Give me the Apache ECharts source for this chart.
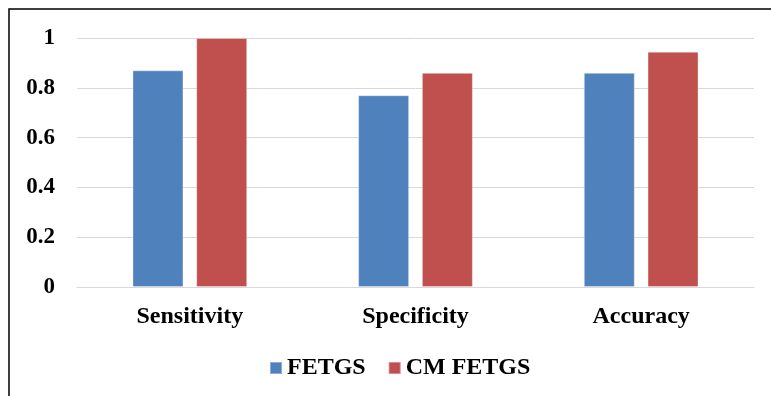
<!DOCTYPE html>
<html>
<head>
<meta charset="utf-8">
<script src="https://cdn.jsdelivr.net/npm/echarts@6/dist/echarts.min.js"></script>
<style>
  html, body { margin: 0; padding: 0; background: #fff; }
  #chart { width: 771px; height: 396px; }
</style>
</head>
<body>
<div id="chart"></div>
<script>
// Metric names along the x axis
const categories = ['Sensitivity', 'Specificity', 'Accuracy'];
// Scores per method
const fetgsValues = [0.87, 0.77, 0.86];
const cmFetgsValues = [1.0, 0.86, 0.945];
const seriesNames = ['FETGS', 'CM FETGS'];

const fontFamily = '"Liberation Serif", "Times New Roman", serif';
const chart = echarts.init(document.getElementById('chart'));

chart.setOption({
  animation: false,
  graphic: [{
    type: 'rect',
    shape: { x: 9, y: 9, width: 900, height: 600 },
    style: { fill: 'none', stroke: '#000', lineWidth: 1.5 },
    silent: true
  }],
  grid: { left: 77, right: 17, top: 38, bottom: 109 },
  legend: {
    data: seriesNames,
    left: 264,
    top: 351,
    icon: 'rect',
    itemWidth: 12,
    itemHeight: 12,
    itemGap: 22,
    textStyle: { fontFamily, fontWeight: 'bold', fontSize: 24, color: '#000' }
  },
  xAxis: {
    type: 'category',
    data: categories,
    axisTick: { show: false },
    axisLine: { show: true, lineStyle: { color: '#d9d9d9', width: 1 } },
    axisLabel: { margin: 18, fontFamily, fontWeight: 'bold', fontSize: 24, color: '#000' }
  },
  yAxis: {
    type: 'value',
    min: 0,
    max: 1,
    interval: 0.2,
    axisLine: { show: false },
    axisTick: { show: false },
    splitLine: { lineStyle: { color: '#d9d9d9', width: 1 } },
    axisLabel: { margin: 22, fontFamily, fontWeight: 'bold', fontSize: 23, color: '#000' }
  },
  series: [
    {
      name: seriesNames[0],
      type: 'bar',
      data: fetgsValues,
      barWidth: 51,
      barGap: '25%',
      itemStyle: { color: '#4f81bd', borderColor: 'rgba(255,255,255,0.35)', borderWidth: 1 }
    },
    {
      name: seriesNames[1],
      type: 'bar',
      data: cmFetgsValues,
      barWidth: 51,
      barGap: '25%',
      itemStyle: { color: '#c0504d', borderColor: 'rgba(255,255,255,0.35)', borderWidth: 1 }
    }
  ]
});
</script>
</body>
</html>
